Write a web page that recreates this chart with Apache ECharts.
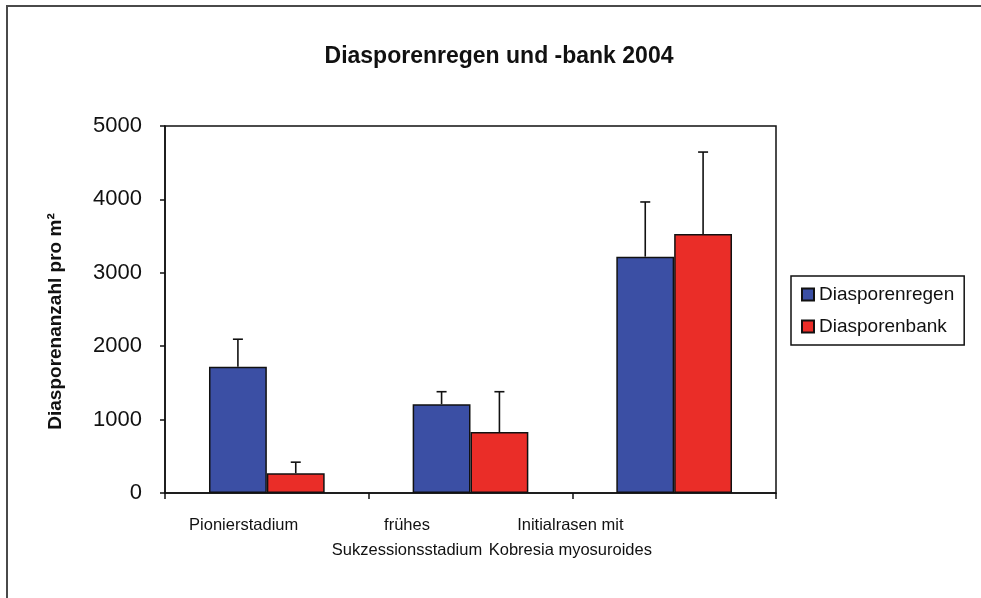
<!DOCTYPE html>
<html>
<head>
<meta charset="utf-8">
<script src="https://cdn.jsdelivr.net/npm/echarts@6/dist/echarts.min.js"></script>
<style>
  html, body { margin: 0; padding: 0; background: #fff; }
  #chart { width: 981px; height: 598px; }
</style>
</head>
<body>
<div id="chart"></div>
<script>
var categories = ['Pionierstadium', 'frühes\nSukzessionsstadium', 'Initialrasen mit\nKobresia myosuroides'];
var regenMean = [1720, 1210, 3220];
var regenSd = [375, 170, 745];
var bankMean = [270, 830, 3530];
var bankSd = [150, 550, 1115];
var yTicks = [0, 1000, 2000, 3000, 4000, 5000];

var myChart = echarts.init(document.getElementById('chart'));
var font = 'Liberation Sans, Arial, sans-serif';

function errorBars(means, sds, side) {
  return {
    type: 'custom',
    xAxisIndex: 0,
    yAxisIndex: 0,
    z: 5,
    silent: true,
    renderItem: function (params, api) {
      var i = api.value(0);
      var m = api.value(1);
      var sd = api.value(2);
      var base = api.coord([i, m]);
      var top = api.coord([i, m + sd]);
      var bw = api.size([1, 0])[0];
      var x = base[0] + side * bw * 0.142;
      var st = { stroke: '#111', lineWidth: 1.6 };
      return {
        type: 'group',
        children: [
          { type: 'line', shape: { x1: x, y1: base[1], x2: x, y2: top[1] }, style: st },
          { type: 'line', shape: { x1: x - 5, y1: top[1], x2: x + 5, y2: top[1] }, style: st }
        ]
      };
    },
    data: means.map(function (v, i) { return [i, v, sds[i]]; })
  };
}

var option = {
  backgroundColor: '#fff',
  animation: false,
  graphic: [
    {
      type: 'rect',
      shape: { x: 7, y: 6, width: 1100, height: 700 },
      style: { fill: 'none', stroke: '#4a4a4a', lineWidth: 2 },
      silent: true
    },
    {
      type: 'text',
      x: 499,
      y: 57,
      style: {
        text: 'Diasporenregen und -bank 2004',
        font: 'bold 23px ' + font,
        fill: '#111',
        textAlign: 'center',
        textVerticalAlign: 'middle'
      }
    }
  ],
  legend: {
    orient: 'vertical',
    left: 791,
    top: 276,
    padding: [9, 10, 9, 10],
    borderColor: '#111',
    borderWidth: 1.5,
    itemWidth: 12,
    itemHeight: 12,
    itemGap: 13,
    icon: 'rect',
    textStyle: { fontFamily: font, fontSize: 19, color: '#111' },
    data: ['Diasporenregen', 'Diasporenbank']
  },
  grid: [
    { left: 165, right: 205, top: 126, bottom: 105, show: true, borderColor: '#111', borderWidth: 1.5 },
    { left: 162, width: 490, top: 126, bottom: 105 }
  ],
  xAxis: [
    {
      type: 'category',
      gridIndex: 0,
      data: categories,
      axisLine: { lineStyle: { color: '#111', width: 1.5 } },
      axisTick: { show: true, interval: 0, length: 6, lineStyle: { color: '#111', width: 1.5 } },
      axisLabel: { show: false, interval: 0 }
    },
    {
      type: 'category',
      gridIndex: 1,
      data: categories,
      axisLine: { show: false },
      axisTick: { show: false },
      axisLabel: {
        interval: 0,
        margin: 20,
        fontFamily: font,
        fontSize: 16.5,
        lineHeight: 25,
        color: '#111'
      }
    }
  ],
  yAxis: [
    {
      type: 'value',
      gridIndex: 0,
      min: yTicks[0],
      max: yTicks[yTicks.length - 1],
      interval: 1000,
      name: 'Diasporenanzahl pro m²',
      nameLocation: 'middle',
      nameGap: 100,
      nameTextStyle: { fontFamily: font, fontSize: 19, fontWeight: 'bold', color: '#111', padding: [0, 0, 0, -24] },
      axisLine: { show: true, lineStyle: { color: '#111', width: 1.5 } },
      axisTick: { show: true, length: 5, lineStyle: { color: '#111', width: 1.5 } },
      axisLabel: {
        margin: 23,
        fontFamily: font,
        fontSize: 22,
        color: '#111',
        formatter: function (v) { return String(v); }
      },
      splitLine: { show: false }
    },
    {
      type: 'value',
      gridIndex: 1,
      show: false
    }
  ],
  series: [
    {
      name: 'Diasporenregen',
      type: 'bar',
      barWidth: '28.4%',
      barGap: '0%',
      itemStyle: { color: '#3b4fa4', borderColor: '#111', borderWidth: 1.5 },
      data: regenMean
    },
    {
      name: 'Diasporenbank',
      type: 'bar',
      barWidth: '28.4%',
      barGap: '0%',
      itemStyle: { color: '#ea2d28', borderColor: '#111', borderWidth: 1.5 },
      data: bankMean
    },
    errorBars(regenMean, regenSd, -1),
    errorBars(bankMean, bankSd, 1)
  ]
};
myChart.setOption(option);
window.addEventListener('resize', function () {
  myChart.resize();
});
</script>
</body>
</html>
